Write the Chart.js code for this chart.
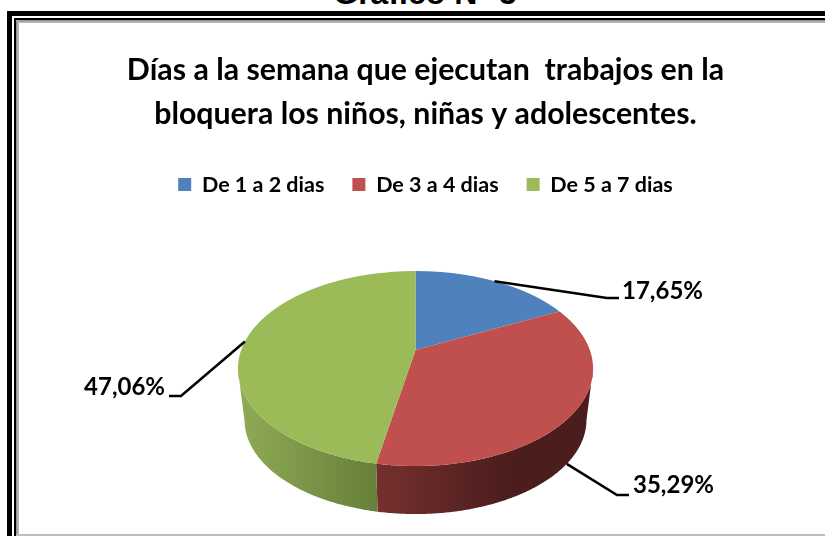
<!DOCTYPE html>
<html lang="es">
<head>
<meta charset="utf-8">
<title>Gráfico N° 5</title>
<script src="https://cdn.jsdelivr.net/npm/chart.js@4"></script>
<style>
  html, body { margin: 0; padding: 0; background: #fff; overflow: hidden; }
  #page { position: relative; width: 825px; height: 536px; overflow: hidden; }
  #heading { position: absolute; left: 0; top: -25px; width: 850px; text-align: center; font: bold 32px "Liberation Sans", sans-serif; color: #000; }
  .bar { position: absolute; }
  #chartBox { position: absolute; left: 0; top: 0; width: 825px; height: 536px; filter: blur(0.5px); }
</style>
</head>
<body>
<div id="page">
  <div id="heading">Gráfico N° 5</div>
  <div id="chartBox"><canvas id="myChart" width="825" height="536"></canvas></div>
  <div class="bar" style="left:7px;top:11px;width:818px;height:5px;background:#000"></div>
  <div class="bar" style="left:7px;top:11px;width:5px;height:525px;background:#000"></div>
  <div class="bar" style="left:14px;top:18px;width:811px;height:2px;background:#000"></div>
  <div class="bar" style="left:14px;top:18px;width:2px;height:518px;background:#000"></div>
  <div class="bar" style="left:16px;top:20px;width:809px;height:3px;background:linear-gradient(#8c8c8c,#c4c4c4)"></div>
  <div class="bar" style="left:16px;top:20px;width:3px;height:516px;background:linear-gradient(90deg,#8c8c8c,#c4c4c4)"></div>
  <div class="bar" style="left:16px;top:534px;width:809px;height:2px;background:#bdbdbd"></div>
</div>
<script>
const categories = ["De 1 a 2 dias", "De 3 a 4 dias", "De 5 a 7 dias"];
const percentages = [17.65, 35.29, 47.06];
const sliceColors = ["#4f81bd", "#c0504d", "#9bbb59"];
const wallColors = [["#3a5f8c", "#3a5f8c"], ["#76302e", "#4b1d1d"], ["#8fab55", "#66803a"]];
const titleLines = ["Días a la semana que ejecutan  trabajos en la", "bloquera los niños, niñas y adolescentes."];

// perspective of the tilted disc
const disc = { cx: 415.5, apexY: 350, a: 174.3, b: 94, k: 0.19, top: 271, bottom: 466 };
const wall = { shrink: 0.963, topCenter: 368.5, bottomCenter: 420, ry: 0.964 };

// leader line elbow, line end and where the label text starts, per slice
const leaders = [
  { elbow: [607, 298], end: [619, 298], text: [622, 291], align: "left", onWall: false },
  { elbow: [617, 495], end: [629, 495], text: [633, 485], align: "left", onWall: true },
  { elbow: [181, 396], end: [169, 396], text: [165, 387], align: "right", onWall: false }
];

function rimPoint(angle) {
  const u = Math.cos(angle), v = Math.sin(angle);
  const d = 1 - disc.k * v;
  return { x: disc.cx + disc.a * u / d, y: disc.apexY + disc.b * v / d, v: v };
}

function lowerPoint(p) {
  return {
    x: disc.cx + (p.x - disc.cx) * wall.shrink,
    y: wall.bottomCenter + (p.y - wall.topCenter) * wall.ry
  };
}

function drawWall(ctx, arc, index) {
  const top = [];
  for (let i = 0; i <= 240; i++) {
    const angle = arc.startAngle + (arc.endAngle - arc.startAngle) * i / 240;
    const p = rimPoint(angle);
    if (p.v >= disc.k) top.push(p);
  }
  if (top.length < 2) return;
  const xs = top.map(p => p.x);
  const x0 = Math.min(...xs), x1 = Math.max(...xs);
  const grad = ctx.createLinearGradient(x0, 0, x1, 0);
  // red wall reaches its darkest part before the right edge
  grad.addColorStop(0, wallColors[index][0]);
  grad.addColorStop(index === 1 ? 0.6 : 1, wallColors[index][1]);
  grad.addColorStop(1, wallColors[index][1]);
  ctx.beginPath();
  top.forEach((p, i) => i ? ctx.lineTo(p.x, p.y) : ctx.moveTo(p.x, p.y));
  top.slice().reverse().forEach(p => {
    const q = lowerPoint(p);
    ctx.lineTo(q.x, q.y);
  });
  ctx.closePath();
  ctx.fillStyle = grad;
  ctx.fill();
}

// draws the library's own arcs row by row through the perspective mapping
function drawTopFace(chart, arcs) {
  const ctx = chart.ctx;
  const R = arcs[0].outerRadius;
  const ax = arcs[0].x, ay = arcs[0].y;
  for (let y = disc.top - 1; y <= disc.bottom + 1; y++) {
    const d = y + 0.5 - disc.apexY;
    const v = d / (disc.b + disc.k * d);
    const f = 1 - disc.k * v;
    const sx = disc.a / f / R;
    const sy = disc.b / (f * f) / R;
    ctx.save();
    ctx.beginPath();
    ctx.rect(0, y, chart.width, 1);
    ctx.clip();
    ctx.setTransform(sx, 0, 0, sy, disc.cx - sx * ax, y + 0.5 - sy * (ay + v * R));
    arcs.forEach(arc => arc.draw(ctx));
    ctx.restore();
  }
}

const pie3d = {
  id: "pie3d",
  beforeDatasetsDraw(chart) {
    const ctx = chart.ctx;
    const arcs = chart.getDatasetMeta(0).data;
    arcs.forEach((arc, i) => drawWall(ctx, arc, i));
    drawTopFace(chart, arcs);

    ctx.save();
    arcs.forEach((arc, i) => {
      const l = leaders[i];
      let p = rimPoint((arc.startAngle + arc.endAngle) / 2);
      if (l.onWall) p = lowerPoint(p);
      ctx.beginPath();
      ctx.moveTo(p.x, p.y);
      ctx.lineTo(l.elbow[0], l.elbow[1]);
      ctx.lineTo(l.end[0], l.end[1]);
      ctx.strokeStyle = "#000";
      ctx.lineWidth = 2.5;
      ctx.stroke();
      ctx.fillStyle = "#000";
      ctx.font = "bold 24px Lato";
      ctx.textAlign = l.align;
      ctx.textBaseline = "middle";
      ctx.fillText(percentages[i].toFixed(2).replace(".", ",") + "%", l.text[0], l.text[1]);
    });
    ctx.restore();
    return false;
  }
};

new Chart(document.getElementById("myChart"), {
  type: "pie",
  data: {
    labels: categories,
    datasets: [{ data: percentages, backgroundColor: sliceColors, borderWidth: 0 }]
  },
  options: {
    responsive: false,
    animation: false,
    layout: { padding: { left: 26 } },
    plugins: {
      title: {
        display: true,
        text: titleLines,
        color: "#000",
        font: { family: "Lato", size: 30.3, weight: "bold", lineHeight: 1.45 },
        padding: { top: 48, bottom: 10 }
      },
      legend: {
        position: "top",
        labels: {
          color: "#000",
          boxWidth: 13,
          boxHeight: 13,
          padding: 28,
          font: { family: "Lato", size: 21.5, weight: "bold" }
        }
      },
      tooltip: { enabled: false }
    }
  },
  plugins: [pie3d]
});
</script>
</body>
</html>
